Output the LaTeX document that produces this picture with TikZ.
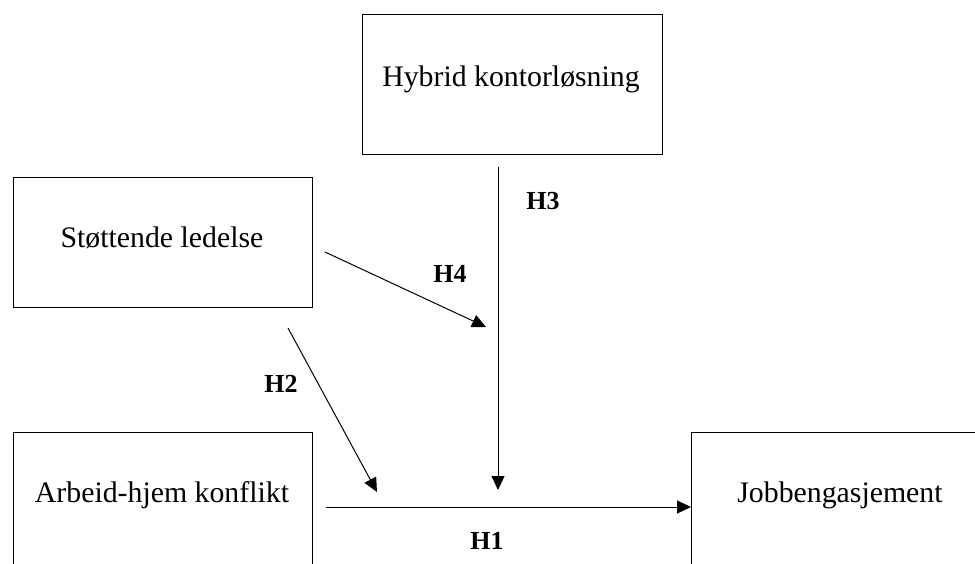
\documentclass[tikz,border=0pt]{standalone}
\usepackage{fontspec}
\setmainfont{Liberation Serif}
\usetikzlibrary{arrows.meta,positioning}

\begin{document}
\begin{tikzpicture}[x=1pt, y=-1pt,
    konstrukt/.style={draw, line width=1pt, inner sep=0pt, anchor=north west},
    tekst/.style={anchor=base, font=\fontsize{29.8}{34}\selectfont, inner sep=0pt},
    hyp/.style={font=\fontsize{26}{30}\selectfont\bfseries, inner sep=0pt},
    arr/.style={-{Triangle[length=14pt, width=13pt]}, line width=1pt}
]
\useasboundingbox (0,0) rectangle (975,563);
\clip (0,0) rectangle (975,563);

% boksene
\node[konstrukt, minimum width=300pt, minimum height=140pt] (HK) at (362,14) {};
\node[konstrukt, minimum width=299pt, minimum height=130pt] (SL) at (13,177) {};
\node[konstrukt, minimum width=299pt, minimum height=160pt] (AK) at (13,432) {};
\node[konstrukt, minimum width=300pt, minimum height=160pt] (JE) at (691,432) {};

\node[tekst] (HKt) at (511,86) {Hybrid kontorløsning};
\node[tekst] (SLt) at (162,247) {Støttende ledelse};
\node[tekst] (AKt) at (162,502) {Arbeid-hjem konflikt};
\node[tekst] (JEt) at (840,502) {Jobbengasjement};

% piler
\coordinate (h1s) at (326,507);
\coordinate (h2s) at (288,328);
\coordinate (h2e) at (377,492);
\coordinate (h3s) at (498,167);
\coordinate (h3e) at (498,490);
\coordinate (h4s) at (325,252);
\coordinate (h4e) at (486,327);

\draw[arr] (h1s) -- (h1s -| JE.west);
\draw[arr] (h2s) -- (h2e);
\draw[arr] (h3s) -- (h3e);
\draw[arr] (h4s) -- (h4e);

\node[hyp] (h1) at (487,541) {H1};
\node[hyp] (h2) at (281,384) {H2};
\node[hyp] (h3) at (543,201) {H3};
\node[hyp] (h4) at (450,274) {H4};
\end{tikzpicture}
\end{document}
